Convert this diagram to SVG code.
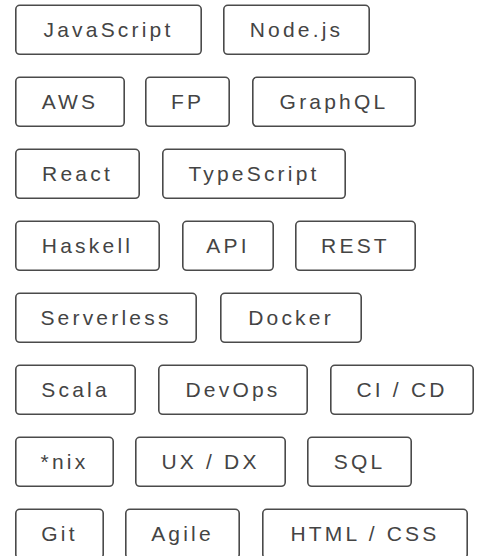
<svg xmlns="http://www.w3.org/2000/svg" width="481" height="556" viewBox="0 0 481 556">
<style>
.b{fill:#fff;stroke:#4a4a4a;stroke-width:1.6}
.t{font-family:"Liberation Sans",Arial,sans-serif;font-size:21px;letter-spacing:3.2px;fill:#444;text-anchor:middle}
</style>
<rect width="481" height="556" fill="#fff"/>
<g id="javascript"><rect class="b" x="15.8" y="5.3" width="185.4" height="49" rx="4"/><text class="t" x="108.5" y="37.2">JavaScript</text></g>
<g id="nodejs"><rect class="b" x="223.8" y="5.3" width="145.4" height="49" rx="4"/><text class="t" x="296.5" y="37.2">Node.js</text></g>
<g id="aws"><rect class="b" x="15.8" y="77.3" width="108.4" height="49" rx="4"/><text class="t" x="70" y="109.2">AWS</text></g>
<g id="fp"><rect class="b" x="145.8" y="77.3" width="83.4" height="49" rx="4"/><text class="t" x="187.5" y="109.2">FP</text></g>
<g id="graphql"><rect class="b" x="252.8" y="77.3" width="162.4" height="49" rx="4"/><text class="t" x="334" y="109.2">GraphQL</text></g>
<g id="react"><rect class="b" x="15.8" y="149.3" width="123.4" height="49" rx="4"/><text class="t" x="77.5" y="181.2">React</text></g>
<g id="typescript"><rect class="b" x="162.8" y="149.3" width="182.4" height="49" rx="4"/><text class="t" x="254" y="181.2">TypeScript</text></g>
<g id="haskell"><rect class="b" x="15.8" y="221.3" width="143.4" height="49" rx="4"/><text class="t" x="87.5" y="253.2">Haskell</text></g>
<g id="api"><rect class="b" x="182.8" y="221.3" width="90.4" height="49" rx="4"/><text class="t" x="228" y="253.2">API</text></g>
<g id="rest"><rect class="b" x="295.8" y="221.3" width="119.4" height="49" rx="4"/><text class="t" x="355.5" y="253.2">REST</text></g>
<g id="serverless"><rect class="b" x="15.8" y="293.3" width="180.4" height="49" rx="4"/><text class="t" x="106" y="325.2">Serverless</text></g>
<g id="docker"><rect class="b" x="220.8" y="293.3" width="140.4" height="49" rx="4"/><text class="t" x="291" y="325.2">Docker</text></g>
<g id="scala"><rect class="b" x="15.8" y="365.3" width="119.4" height="49" rx="4"/><text class="t" x="75.5" y="397.2">Scala</text></g>
<g id="devops"><rect class="b" x="158.8" y="365.3" width="148.4" height="49" rx="4"/><text class="t" x="233" y="397.2">DevOps</text></g>
<g id="cicd"><rect class="b" x="330.8" y="365.3" width="142.4" height="49" rx="4"/><text class="t" x="402" y="397.2">CI / CD</text></g>
<g id="nix"><rect class="b" x="15.8" y="437.3" width="97.4" height="49" rx="4"/><text class="t" x="64.5" y="469.2">*nix</text></g>
<g id="uxdx"><rect class="b" x="135.8" y="437.3" width="149.4" height="49" rx="4"/><text class="t" x="210.5" y="469.2">UX / DX</text></g>
<g id="sql"><rect class="b" x="307.8" y="437.3" width="103.4" height="49" rx="4"/><text class="t" x="359.5" y="469.2">SQL</text></g>
<g id="git"><rect class="b" x="15.8" y="509.3" width="87.4" height="49" rx="4"/><text class="t" x="59.5" y="541.2">Git</text></g>
<g id="agile"><rect class="b" x="125.8" y="509.3" width="113.4" height="49" rx="4"/><text class="t" x="182.5" y="541.2">Agile</text></g>
<g id="htmlcss"><rect class="b" x="262.8" y="509.3" width="204.4" height="49" rx="4"/><text class="t" x="365" y="541.2">HTML / CSS</text></g>
<g id="connectors"></g>
</svg>
